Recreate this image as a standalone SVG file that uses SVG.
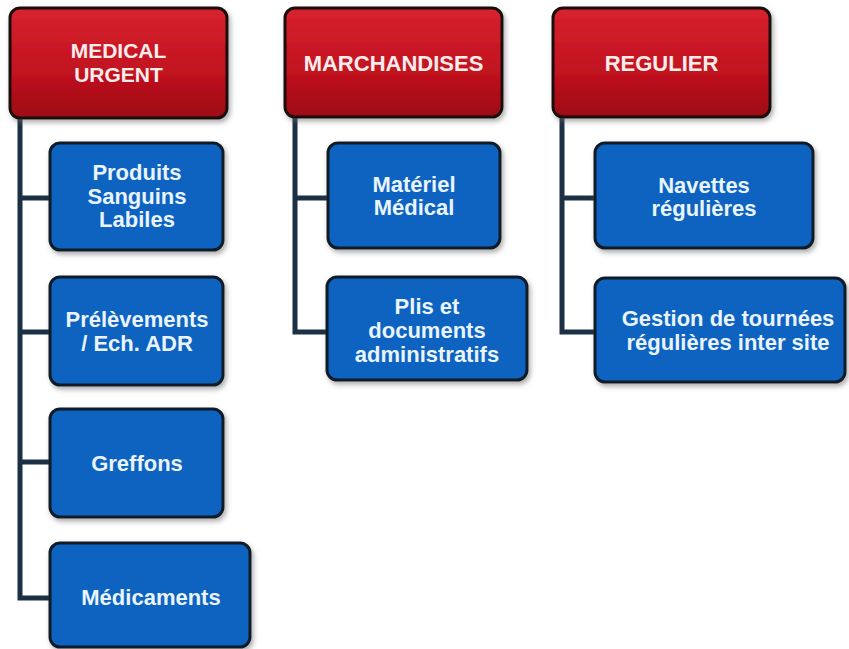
<svg xmlns="http://www.w3.org/2000/svg" width="849" height="649" viewBox="0 0 849 649">
<defs>
<linearGradient id="red" x1="0" y1="0" x2="0" y2="1">
<stop offset="0" stop-color="#d8222f"/>
<stop offset="0.6" stop-color="#c0121f"/>
<stop offset="1" stop-color="#9c0612"/>
</linearGradient>
<filter id="sh" x="-10%" y="-10%" width="125%" height="130%">
<feDropShadow dx="2" dy="3" stdDeviation="2.5" flood-color="#6b6b6b" flood-opacity="0.55"/>
</filter>
<style>
.red{fill:url(#red);stroke:#1c0b0b;stroke-width:3;filter:url(#sh)}
.blue{fill:#0b63bf;stroke:#0f1a28;stroke-width:3;filter:url(#sh)}
.conn{fill:none;stroke:#1b2f45;stroke-width:5}
text{font-family:"Liberation Sans",Arial,sans-serif;font-weight:bold;font-size:22px;text-anchor:middle;dominant-baseline:central}
.rt{fill:#fcecec}
.bt{fill:#eaf4ff}
</style>
</defs>
<rect width="849" height="649" fill="#ffffff"/>
<g id="connectors">
<path class="conn" d="M20 118 V598 H52 M20 198 H52 M20 332 H52 M20 462 H52"/>
<path class="conn" d="M295 117 V332 H329 M295 198 H330"/>
<path class="conn" d="M562 117 V332 H597 M562 198 H597"/>
</g>
<g id="medical-urgent">
<rect class="red" x="10" y="8" width="217" height="110" rx="10"/>
<text class="rt" x="118.5" y="50" style="font-size:21px">MEDICAL</text>
<text class="rt" x="118.5" y="74" style="font-size:21px">URGENT</text>
</g>
<g id="marchandises">
<rect class="red" x="285" y="8" width="217" height="109" rx="10"/>
<text class="rt" x="393.5" y="63">MARCHANDISES</text>
</g>
<g id="regulier">
<rect class="red" x="553" y="8" width="217" height="109" rx="10"/>
<text class="rt" x="661.5" y="63">REGULIER</text>
</g>
<g id="produits-sanguins">
<rect class="blue" x="50" y="143" width="173" height="107" rx="10"/>
<text class="bt" x="137" y="172">Produits</text>
<text class="bt" x="137" y="196">Sanguins</text>
<text class="bt" x="137" y="219">Labiles</text>
</g>
<g id="prelevements">
<rect class="blue" x="50" y="277" width="173" height="108" rx="10"/>
<text class="bt" x="137" y="319">Prélèvements</text>
<text class="bt" x="137" y="343">/ Ech. ADR</text>
</g>
<g id="greffons">
<rect class="blue" x="50" y="409" width="173" height="108" rx="10"/>
<text class="bt" x="137" y="463">Greffons</text>
</g>
<g id="medicaments">
<rect class="blue" x="50" y="543" width="200" height="104" rx="10"/>
<text class="bt" x="151" y="597">Médicaments</text>
</g>
<g id="materiel-medical">
<rect class="blue" x="328" y="143" width="172" height="105" rx="10"/>
<text class="bt" x="414" y="184">Matériel</text>
<text class="bt" x="414" y="207">Médical</text>
</g>
<g id="plis-documents">
<rect class="blue" x="327" y="277" width="200" height="103" rx="10"/>
<text class="bt" x="427" y="306">Plis et</text>
<text class="bt" x="427" y="330">documents</text>
<text class="bt" x="427" y="354">administratifs</text>
</g>
<g id="navettes">
<rect class="blue" x="595" y="143" width="218" height="105" rx="10"/>
<text class="bt" x="704" y="185">Navettes</text>
<text class="bt" x="704" y="208">régulières</text>
</g>
<g id="gestion-tournees">
<rect class="blue" x="595" y="278" width="250" height="104" rx="10"/>
<text class="bt" x="728" y="318">Gestion de tournées</text>
<text class="bt" x="728" y="342">régulières inter site</text>
</g>
</svg>
